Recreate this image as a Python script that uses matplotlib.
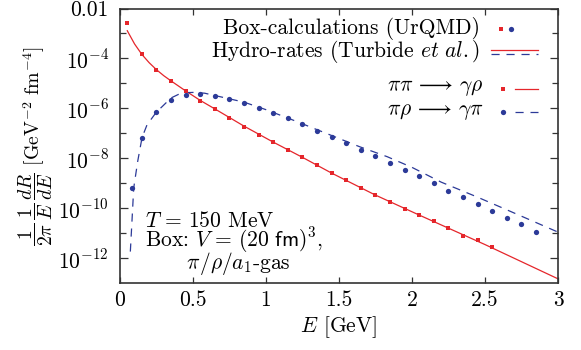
import numpy as np
import matplotlib
matplotlib.use("Agg")
import matplotlib.pyplot as plt
from matplotlib.ticker import FixedLocator, FixedFormatter, NullFormatter

# Box calculations (UrQMD), pi pi -> gamma rho
E_pipi = [0.05, 0.15, 0.25, 0.35, 0.45, 0.55, 0.65, 0.75, 0.85, 0.95,
          1.05, 1.15, 1.25, 1.35, 1.45, 1.55, 1.65, 1.75, 1.85, 1.95,
          2.05, 2.15, 2.25, 2.35, 2.45, 2.55]
rate_pipi = [2.57e-3, 1.51e-4, 3.39e-5, 1.23e-5, 5.01e-6, 1.95e-6, 9.33e-7,
             4.07e-7, 1.86e-7, 8.91e-8, 4.47e-8, 2.19e-8, 1.12e-8, 5.50e-9,
             2.57e-9, 1.35e-9, 6.61e-10, 3.39e-10, 1.78e-10, 9.33e-11,
             5.37e-11, 3.09e-11, 1.62e-11, 7.76e-12, 5.25e-12, 2.82e-12]

# Box calculations (UrQMD), pi rho -> gamma pi
E_pirho = [0.08, 0.15, 0.25, 0.35, 0.45, 0.55, 0.65, 0.75, 0.85, 0.95,
           1.05, 1.15, 1.25, 1.35, 1.45, 1.55, 1.65, 1.75, 1.85, 1.95,
           2.05, 2.15, 2.25, 2.35, 2.45, 2.55, 2.65, 2.75, 2.85]
rate_pirho = [6.76e-10, 6.76e-8, 6.92e-7, 2.14e-6, 3.31e-6, 3.63e-6, 3.09e-6,
              2.34e-6, 1.66e-6, 1.07e-6, 6.46e-7, 4.07e-7, 2.34e-7, 1.29e-7,
              7.24e-8, 4.17e-8, 2.19e-8, 1.26e-8, 6.76e-9, 3.55e-9, 1.91e-9,
              1.05e-9, 5.13e-10, 2.88e-10, 1.51e-10, 8.13e-11, 4.27e-11,
              2.29e-11, 1.15e-11]

# Hydro rates (Turbide et al.)
E_hydro_pipi = [0.05, 0.10, 0.15, 0.20, 0.25, 0.30, 0.35, 0.45, 0.55, 0.65,
                0.85, 1.05, 1.25, 1.45, 1.75, 2.05, 2.50, 3.00]
hydro_pipi = [1.29e-3, 3.80e-4, 1.45e-4, 6.76e-5, 3.55e-5, 2.04e-5, 1.26e-5,
              5.01e-6, 2.09e-6, 9.55e-7, 1.95e-7, 4.47e-8, 1.10e-8, 2.57e-9,
              3.39e-10, 5.37e-11, 3.55e-12, 1.51e-13]

E_hydro_pirho = [0.071, 0.082, 0.094, 0.121, 0.151, 0.185, 0.249, 0.288,
                 0.35, 0.40, 0.45, 0.50, 0.58, 0.70, 0.85, 1.00, 1.20, 1.41,
                 1.64, 1.83, 2.00, 2.20, 2.44, 2.65, 3.00]
hydro_pirho = [1.86e-12, 2.95e-11, 6.46e-10, 7.41e-9, 6.76e-8, 2.19e-7,
               7.08e-7, 1.17e-6, 2.63e-6, 3.63e-6, 4.27e-6, 4.37e-6, 4.07e-6,
               2.82e-6, 1.78e-6, 8.91e-7, 3.16e-7, 1.02e-7, 2.95e-8, 1.17e-8,
               4.37e-9, 1.12e-9, 2.95e-10, 8.71e-11, 1.12e-11]

xticks = [0, 0.5, 1, 1.5, 2, 2.5, 3]
xticklabels = ["0", "0.5", "1", "1.5", "2", "2.5", "3"]
yticks = [1e-2, 1e-4, 1e-6, 1e-8, 1e-10, 1e-12]
yticklabels = ["0.01", "$10^{-4}$", "$10^{-6}$", "$10^{-8}$",
               "$10^{-10}$", "$10^{-12}$"]
yminor = [1e-3, 1e-5, 1e-7, 1e-9, 1e-11]

RED = "#e5262b"
BLUE = "#2c3a98"
DARK = "#333333"
FS = 15.5
SQ = 3.4
DOT = 3.8

plt.rcParams["font.family"] = "serif"
plt.rcParams["font.serif"] = ["cmr10"]
plt.rcParams["mathtext.fontset"] = "cm"
plt.rcParams["axes.formatter.use_mathtext"] = True

fig = plt.figure(figsize=(5.81, 3.5), dpi=100)
ax = fig.add_axes([0.2065, 0.1906, 0.7539, 0.7851])

ax.plot(E_hydro_pipi, hydro_pipi, color=RED, lw=0.9)
ax.plot(E_hydro_pirho, hydro_pirho, color=BLUE, lw=0.9, dashes=(6.5, 5.5))
ax.plot(E_pipi, rate_pipi, ls="none", marker="s", ms=SQ, color=RED, mew=0)
ax.plot(E_pirho, rate_pirho, ls="none", marker="o", ms=DOT, color=BLUE, mew=0)

ax.set_yscale("log")
ax.set_xlim(0, 3)
ax.set_ylim(1e-13, 1e-2)

ax.set_xticks(xticks)
ax.set_xticklabels(xticklabels)
ax.yaxis.set_major_locator(FixedLocator(yticks))
ax.yaxis.set_major_formatter(FixedFormatter(yticklabels))
ax.yaxis.set_minor_locator(FixedLocator(yminor))
ax.yaxis.set_minor_formatter(NullFormatter())

ax.tick_params(axis="both", which="both", direction="in", top=True, right=True,
               color=DARK, labelsize=FS, width=0.9)
ax.tick_params(axis="x", length=4.5, pad=5)
ax.tick_params(axis="y", which="major", length=6, pad=8)
ax.tick_params(axis="y", which="minor", length=4)
for s in ax.spines.values():
    s.set_linewidth(1.2)
    s.set_color(DARK)

ax.set_xlabel("$E$ [GeV]", fontsize=FS, labelpad=3)
ax.set_ylabel(r"$\dfrac{1}{2\pi}\,\dfrac{1}{E}\,\dfrac{dR}{dE}$ [GeV$^{-2}$ fm$^{-4}$]",
              fontsize=FS * 0.92, labelpad=2)

# legend, drawn by hand so the hydro key can hold both line styles
tr = ax.transAxes
ax.text(0.822, 0.928, "Box-calculations (UrQMD)", transform=tr, fontsize=FS,
        ha="right", va="center")
ax.text(0.822, 0.843, r"Hydro-rates (Turbide $\mathit{et\ al.}$)", transform=tr,
        fontsize=FS, ha="right", va="center")
ax.plot([0.871], [0.925], "s", ms=SQ, color=RED, mew=0, transform=tr)
ax.plot([0.892], [0.927], "o", ms=DOT, color=BLUE, mew=0, transform=tr)
ax.plot([0.848, 0.955], [0.848, 0.848], color=RED, lw=0.9, transform=tr)
ax.plot([0.848, 0.955], [0.833, 0.833], color=BLUE, lw=0.9, dashes=(6.5, 5.5),
        transform=tr)

ax.text(0.829, 0.710, r"$\pi\pi\,\longrightarrow\,\gamma\rho$", transform=tr,
        fontsize=FS, ha="right", va="center")
ax.text(0.829, 0.624, r"$\pi\rho\,\longrightarrow\,\gamma\pi$", transform=tr,
        fontsize=FS, ha="right", va="center")
ax.plot([0.875], [0.708], "s", ms=SQ, color=RED, mew=0, transform=tr)
ax.plot([0.902, 0.955], [0.708, 0.708], color=RED, lw=0.9, transform=tr)
ax.plot([0.875], [0.624], "o", ms=DOT, color=BLUE, mew=0, transform=tr)
ax.plot([0.902, 0.955], [0.624, 0.624], color=BLUE, lw=0.9, dashes=(6.5, 5.5),
        transform=tr)

# box conditions, one block of three lines
box_info = (r"$T\,=\,150$ MeV" "\n"
            r"Box: $V\,=\,(20\ \mathsf{fm})^3$," "\n"
            r"$\qquad\:\pi/\rho/a_1$-gas")
ax.text(0.057, 0.143, box_info, transform=tr, fontsize=FS,
        ha="left", va="center", multialignment="left", linespacing=0.74)

fig.savefig("out.png", dpi=100)
